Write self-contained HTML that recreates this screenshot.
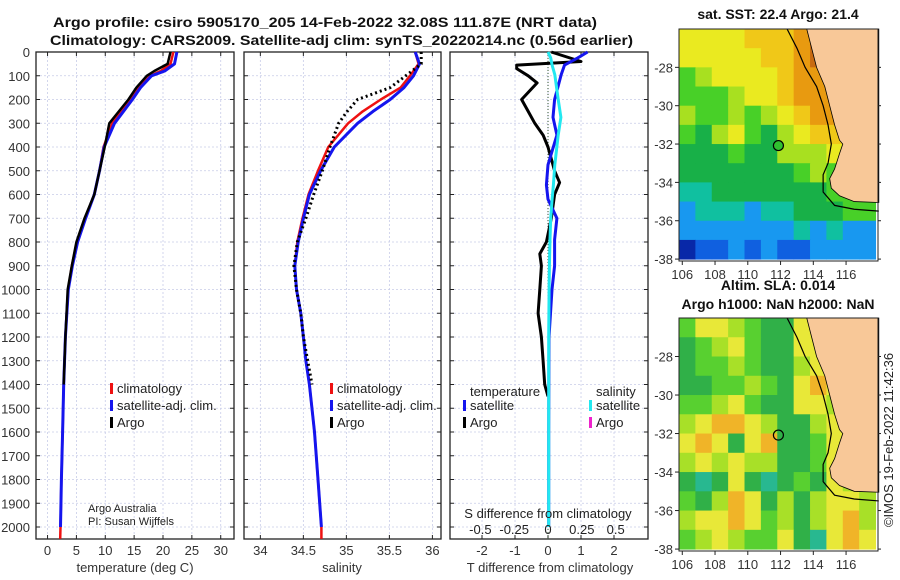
<!DOCTYPE html>
<html><head><meta charset="utf-8"><style>
body{margin:0;background:#fff;}
svg{display:block;font-family:"Liberation Sans","DejaVu Sans",sans-serif;}
</style></head><body>
<svg id="fig" width="900" height="580" viewBox="0 0 900 580">
<rect width="900" height="580" fill="#fff"/>
<g font-weight="bold" font-size="14" fill="#111">
<text x="53" y="27" textLength="544" lengthAdjust="spacingAndGlyphs">Argo profile: csiro 5905170_205 14-Feb-2022 32.08S 111.87E (NRT data)</text>
<text x="50" y="45" textLength="583" lengthAdjust="spacingAndGlyphs">Climatology: CARS2009. Satellite-adj clim: synTS_20220214.nc (0.56d earlier)</text>
</g>
<g id="p1"></g>
<g id="p2"></g>
<g id="p3"></g>
<g id="m1"></g>
<g id="m2"></g>
<text transform="translate(893,440) rotate(-90)" text-anchor="middle" font-size="13" fill="#222">©IMOS 19-Feb-2022 11:42:36</text>
</svg>
<script>
// ---------- profile data ----------
const depthT = [0,50,80,100,150,200,300,400,500,600,700,800,900,1000,1200,1400,1600,1800,2000];
const tempArgo = [21.3,20.8,18.5,17.2,15.4,14.0,10.7,9.9,9.0,8.1,6.4,5.0,4.2,3.5,3.1,2.8,2.6,2.4,2.25];
const tempClim = [21.8,21.3,19.6,17.8,15.8,14.4,11.2,9.7,9.0,8.1,6.5,5.1,4.2,3.6,3.1,2.8,2.6,2.4,2.25];
const tempSat  = [22.4,22.0,20.3,18.0,16.1,14.7,11.6,9.8,9.0,8.1,6.6,5.2,4.3,3.6,3.1,2.8,2.6,2.4,2.25];
const depthS = [0,50,100,150,200,250,300,400,500,600,700,800,900,1000,1100,1200,1300,1400,1600,1800,2000];
const salArgo = [35.87,35.87,35.69,35.51,35.13,35.01,34.91,34.81,34.72,34.62,34.53,34.43,34.39,34.42,34.47,34.5,34.55,34.6,34.63,34.67,34.71];
const salClim = [35.80,35.84,35.74,35.63,35.40,35.19,35.02,34.79,34.67,34.56,34.49,34.43,34.40,34.42,34.47,34.5,34.53,34.57,34.63,34.67,34.71];
const salSat  = [35.80,35.85,35.78,35.67,35.51,35.31,35.13,34.86,34.70,34.57,34.50,34.44,34.40,34.42,34.47,34.5,34.53,34.57,34.63,34.67,34.71];
const depthD = [0,40,55,70,100,130,200,250,300,350,400,450,500,550,600,700,800,850,900,1000,1100,1200,1300,1400,1450];
const dTArgo = [0.1,1.0,-0.95,-0.95,-0.6,-0.33,-0.8,-0.6,-0.4,-0.15,0,0.1,0.2,0.35,0.2,0.1,-0.05,-0.25,-0.2,-0.25,-0.3,-0.2,-0.15,-0.1,0];
const depthD2 = [0,25,55,95,200,275,350,475,560,620,700,790,900,1000,1200,1600,2000];
const dTSat = [1.2,0.9,0.5,0.4,0.2,0.15,0.27,0,-0.05,0,0.27,0.2,0.2,0.12,0.03,0.02,0.02];
const dSSat = [0,0.02,0.03,0.05,0.075,0.095,0.075,0.05,0.04,0.03,0.02,0.015,0.01,0.008,0.005,0.005,0.005];
const depthTicks = [0,100,200,300,400,500,600,700,800,900,1000,1100,1200,1300,1400,1500,1600,1700,1800,1900,2000];
const tTicks = [0,5,10,15,20,25,30];
const sTicks = [34,34.5,35,35.5,36];
const sTickLabels = ["34","34.5","35","35.5","36"];
const dTTicks = [-2,-1,0,1,2];
const dSTicks = [-0.5,-0.25,0,0.25,0.5];
const dSTickLabels = ["-0.5","-0.25","0","0.25","0.5"];
// ---------- map data (1-degree cells, lat -26 to -38, lon 105.8 to 117.8) ----------
const sstRows = [
"YYYYyyyOoooo",
"YYYYYyyOoooo",
"glYYYYyOOooo",
"ggglYYyOOOOO",
"lgglglYyOOyy",
"gGlYgGlYyyYY",
"GGGgGGlllYYY",
"GGGGGGGglggg",
"ttGGGGGGGggg",
"btttbttGGGgg",
"bbbbbbbtbtbb",
"DBBbBbBBbbbb"];
const slaRows = [
"gYYlgGGYYlll",
"GglYgGGYYlll",
"GgglgGGlYlll",
"GGgglgGYOYll",
"gglYgGGYYlYl",
"lYOOYlGGlYYl",
"YOYGYOGGgYYl",
"lYlYllGGgYll",
"GTGYGTGgGYll",
"gGlOYGlGlYYl",
"lYYOYglGlYOl",
"glYlggYGTYOY"];
const sstColors = {o:"#c86a10",O:"#e89a10",y:"#f0c818",Y:"#eaea20",l:"#a8e020",g:"#48d028",G:"#18b048",t:"#10c0a0",b:"#1898f0",B:"#1060e0",D:"#0828a8"};
const slaColors = {G:"#30b048",g:"#58d030",l:"#a8e028",Y:"#e8e838",O:"#f0b428",T:"#28b890"};
const landLon = [113.6,113.9,114.2,114.7,115.0,115.3,115.6,115.8,115.6,115.3,115.0,115.1,115.6,116.5,118.0,118.0];
const landLat = [-26,-27,-28,-29,-30,-31,-31.8,-32,-32.5,-33.3,-33.8,-34.3,-34.7,-35.0,-35.05,-26];
const shelfLon = [112.4,113.0,113.5,114.2,114.6,114.9,115.1,114.9,114.6,114.6,115.3,116.5,118.0];
const shelfLat = [-26,-27,-28,-29,-30,-31,-32,-33,-33.6,-34.5,-35.2,-35.4,-35.5];
const argoLon = 111.87, argoLat = -32.08;
const lonTicks = [106,108,110,112,114,116];
const latTicks = [-28,-30,-32,-34,-36,-38];

const NS="http://www.w3.org/2000/svg";
function mk(parent,tag,attrs,text){const e=document.createElementNS(NS,tag);for(const k in attrs)e.setAttribute(k,attrs[k]);if(text!==undefined)e.textContent=text;parent.appendChild(e);return e;}
const Y0=52,Y1=539;
const yD=d=>Y0+d*0.2375;
function panel(g,x0,x1,lo,hi,ticks,labels,showDepth){
  const sx=v=>x0+(v-lo)/(hi-lo)*(x1-x0);
  depthTicks.forEach(d=>{const l=mk(g,'line',{x1:x0,x2:x1,y1:yD(d),y2:yD(d),stroke:'#c8cce8','stroke-width':0.8,'stroke-dasharray':'2,2'});
    
    mk(g,'line',{x1:x0,x2:x0+4,y1:yD(d),y2:yD(d),stroke:'#222'});mk(g,'line',{x1:x1-4,x2:x1,y1:yD(d),y2:yD(d),stroke:'#222'});
    if(showDepth){const t=mk(g,'text',{x:x0-6,y:yD(d)+5,'text-anchor':'end','font-size':13,fill:'#333'},String(d));
      }});
  ticks.forEach((v,i)=>{const l=mk(g,'line',{x1:sx(v),x2:sx(v),y1:Y0,y2:Y1,stroke:'#c8cce8','stroke-width':0.8,'stroke-dasharray':'2,2'});
    
    mk(g,'line',{x1:sx(v),x2:sx(v),y1:Y1,y2:Y1-4,stroke:'#222'});mk(g,'line',{x1:sx(v),x2:sx(v),y1:Y0,y2:Y0+4,stroke:'#222'});
    const t=mk(g,'text',{x:sx(v),y:Y1+16,'text-anchor':'middle','font-size':13,fill:'#333'},labels[i]);
    });
  const r=mk(g,'rect',{x:x0,y:Y0,width:x1-x0,height:Y1-Y0,fill:'none',stroke:'#222','stroke-width':1.3});
  
  return sx;
}
function line(g,sx,ds,vs,color,w,dash,name){
  const p=ds.map((d,i)=>sx(vs[i]).toFixed(1)+','+yD(d).toFixed(1)).join(' ');
  const e=mk(g,'polyline',{points:p,fill:'none',stroke:color,'stroke-width':w,'stroke-linejoin':'round'});
  if(dash)e.setAttribute('stroke-dasharray',dash);
  
}
function legend(g,x,y,items){items.forEach((it,i)=>{
  const b=mk(g,'rect',{x:x,y:y+i*17-9,width:3,height:11,fill:it[1]});
  
  const t=mk(g,'text',{x:x+7,y:y+i*17+1,'font-size':13,fill:'#222'},it[0]);
  });}
// Panel 1
const g1=document.getElementById('p1');
const sx1=panel(g1,36,234,-2,32.3,tTicks,tTicks.map(String),true);
line(g1,sx1,[2000,2050],[2.25,2.2],'#ee1111',2.5,null,'temp-climatology-tail');
line(g1,sx1,depthT,tempClim,'#ee1111',2.5,null,'temp-climatology-line');
line(g1,sx1,depthT,tempSat,'#1515ee',3,null,'temp-satellite-line');
line(g1,sx1,depthT.slice(0,16),tempArgo.slice(0,16),'#000',2.5,null,'temp-argo-line');
legend(g1,110,392,[['climatology','#ee1111'],['satellite-adj. clim.','#1515ee'],['Argo','#000']]);
let t=mk(g1,'text',{x:135,y:572,'text-anchor':'middle','font-size':13,fill:'#333'},'temperature (deg C)');

t=mk(g1,'text',{x:88,y:512,'font-size':11,fill:'#222'},'Argo Australia');
t=mk(g1,'text',{x:88,y:525,'font-size':11,fill:'#222'},'PI: Susan Wijffels');
// Panel 2
const g2=document.getElementById('p2');
const sx2=panel(g2,244,441,33.81,36.1,sTicks,sTickLabels,false);
line(g2,sx2,[2000,2050],[34.71,34.71],'#ee1111',2.5,null,'sal-climatology-tail');
line(g2,sx2,depthS,salClim,'#ee1111',2.5,null,'sal-climatology-line');
line(g2,sx2,depthS,salSat,'#1515ee',3,null,'sal-satellite-line');
line(g2,sx2,depthS.slice(0,18),salArgo.slice(0,18),'#000',3,'2,3','sal-argo-line');
legend(g2,330,392,[['climatology','#ee1111'],['satellite-adj. clim.','#1515ee'],['Argo','#000']]);
t=mk(g2,'text',{x:342,y:572,'text-anchor':'middle','font-size':13,fill:'#333'},'salinity');

// Panel 3
const g3=document.getElementById('p3');
const sx3=panel(g3,450,648,-2.97,3.03,dTTicks,dTTicks.map(String),false);
const sxS=v=>sx3(v*4.1);
mk(g3,'line',{x1:sx3(0),x2:sx3(0),y1:Y0,y2:Y1,stroke:'#335533','stroke-width':1,'stroke-dasharray':'1,2'});
line(g3,sx3,depthD,dTArgo,'#000',3,null,'dT-argo-line');
line(g3,sx3,depthD2,dTSat,'#1515ee',3,null,'dT-satellite-line');
line(g3,sxS,depthD2,dSSat,'#22e8f0',3,null,'dS-satellite-line');
legend(g3,463,409,[['satellite','#1515ee'],['Argo','#000']]);
legend(g3,589,409,[['satellite','#22e8f0'],['Argo','#ee22cc']]);
t=mk(g3,'text',{x:470,y:396,'font-size':13,fill:'#222'},'temperature');
t=mk(g3,'text',{x:596,y:396,'font-size':13,fill:'#222'},'salinity');
t=mk(g3,'text',{x:548,y:518,'text-anchor':'middle','font-size':13,fill:'#222'},'S difference from climatology');
dSTicks.forEach((v,i)=>{const e=mk(g3,'text',{x:sxS(v),y:534,'text-anchor':'middle','font-size':13,fill:'#222'},dSTickLabels[i]);
  });
t=mk(g3,'text',{x:550,y:572,'text-anchor':'middle','font-size':13,fill:'#333'},'T difference from climatology');

// Maps
function map(g,top,bottom,rows,colors,title,title2,circleFill){
  const L=679,R=878,lon0=105.8,lon1=117.95,lat0=-26.0,lat1=-38.1;
  const sx=v=>L+(v-lon0)/(lon1-lon0)*(R-L), sy=v=>top+(v-lat0)/(lat1-lat0)*(bottom-top);
  rows.forEach((row,r)=>{[...row].forEach((c,k)=>{
    const x0=sx(lon0+k),x1=Math.min(sx(lon0+k+1),R),y0=sy(-26-r),y1=Math.min(sy(-27-r),bottom);
    const e=mk(g,'rect',{x:x0,y:y0,width:x1-x0+0.5,height:y1-y0+0.5,fill:colors[c]});
    });});
  const land=mk(g,'polygon',{points:landLon.map((v,i)=>sx(v)+','+sy(landLat[i])).join(' '),fill:'#f8c898',stroke:'#000','stroke-width':0.8});
  
  const sh=mk(g,'polyline',{points:shelfLon.map((v,i)=>sx(v)+','+sy(shelfLat[i])).join(' '),fill:'none',stroke:'#000','stroke-width':1.2});
  
  const c=mk(g,'circle',{cx:sx(argoLon),cy:sy(argoLat),r:5,fill:circleFill,stroke:'#000','stroke-width':1.2});
  
  const fr=mk(g,'rect',{x:L,y:top,width:R-L,height:bottom-top,fill:'none',stroke:'#222','stroke-width':1});
  
  lonTicks.forEach(v=>{mk(g,'line',{x1:sx(v),x2:sx(v),y1:bottom,y2:bottom+4,stroke:'#222'});
    const e=mk(g,'text',{x:sx(v),y:bottom+18,'text-anchor':'middle','font-size':13,fill:'#333'},String(v));
    });
  latTicks.forEach(v=>{mk(g,'line',{x1:L-4,x2:L,y1:sy(v),y2:sy(v),stroke:'#222'});mk(g,'line',{x1:R,x2:R+3,y1:sy(v),y2:sy(v),stroke:'#222'});
    const e=mk(g,'text',{x:L-6,y:sy(v)+5,'text-anchor':'end','font-size':13,fill:'#333'},String(v));
    });
  const tt=mk(g,'text',{x:778,y:top-(title2?28:10),'text-anchor':'middle','font-size':14,'font-weight':'bold',fill:'#111'},title);
  
  if(title2){const t2=mk(g,'text',{x:778,y:top-9,'text-anchor':'middle','font-size':14,'font-weight':'bold',fill:'#111'},title2);
    }
}
map(document.getElementById('m1'),29,261,sstRows,sstColors,'sat. SST: 22.4 Argo: 21.4',null,'#30c030');
map(document.getElementById('m2'),318,551,slaRows,slaColors,'Altim. SLA: 0.014','Argo h1000: NaN h2000: NaN','none');
</script>
</body></html>
